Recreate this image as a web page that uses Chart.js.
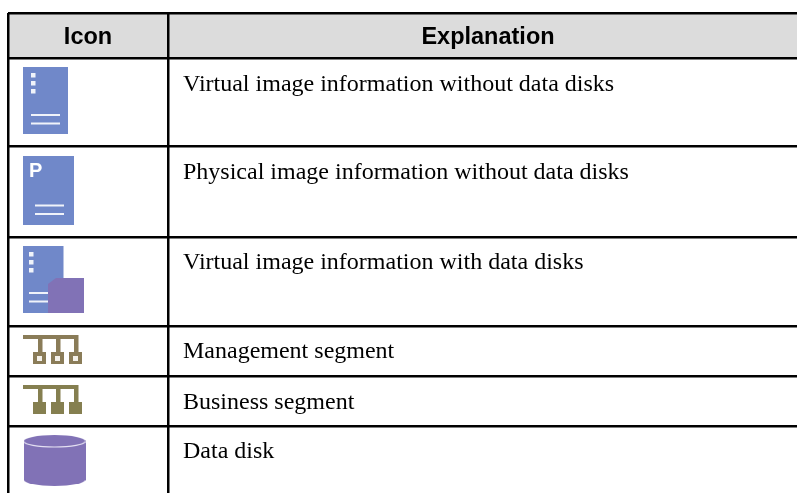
<!DOCTYPE html>
<html>
<head>
<meta charset="utf-8">
<title>Icon table</title>
<script src="https://cdn.jsdelivr.net/npm/chart.js@4"></script>
<style>
  html, body { margin: 0; padding: 0; background: #fff; overflow: hidden; }
  canvas { display: block; filter: blur(0.35px); }
</style>
</head>
<body>
<canvas id="myChart" width="797" height="493"></canvas>
<script>
// table content
const headers = ["Icon", "Explanation"];
const explanations = [
  "Virtual image information without data disks",
  "Physical image information without data disks",
  "Virtual image information with data disks",
  "Management segment",
  "Business segment",
  "Data disk",
];

// the axes run in page units, these are their ticks (the table rules)
const columnEdges = [8, 168];
const rowEdges = [13, 58, 146, 237, 326, 376, 426];

// text baselines and icon centres
const explanationY = [91, 179, 269, 358, 409, 458];
const iconCentreX = [45.5, 48.5, 53.5, 52.5, 52.5, 54.5];
const iconCentreY = [100.5, 190.5, 279.5, 349.5, 399.5, 460.5];

const BLUE = "#7088c9";
const PURPLE = "#8172b6";
const BROWN = "#8a7c58";
const OLIVE = "#857f50";
const PALE = "#f0f3fa";

function makeIcon(w, h, draw) {
  const c = document.createElement("canvas");
  c.width = w;
  c.height = h;
  draw(c.getContext("2d"));
  return c;
}

function dots(ctx, x, y) {
  ctx.fillStyle = PALE;
  [0, 8, 16].forEach((d) => ctx.fillRect(x, y + d, 4.5, 4.5));
}

function rules(ctx, x, y, w) {
  ctx.fillStyle = PALE;
  ctx.fillRect(x, y, w, 2);
  ctx.fillRect(x, y + 8.5, w, 2);
}

function segment(colour, hollow) {
  return makeIcon(59, 29, (ctx) => {
    ctx.fillStyle = colour;
    ctx.fillRect(0, 0, 55, 4);
    [15, 33, 51].forEach((x) => ctx.fillRect(x, 0, 4.5, 18));
    [10, 28, 46].forEach((x) => {
      ctx.fillStyle = colour;
      ctx.fillRect(x, 17, 13, 12);
      if (hollow) {
        ctx.fillStyle = "#f4f1ea";
        ctx.fillRect(x + 4, 21, 5, 5);
      }
    });
  });
}

const icons = [
  makeIcon(45, 67, (ctx) => {
    ctx.fillStyle = BLUE;
    ctx.fillRect(0, 0, 45, 67);
    dots(ctx, 8, 6);
    rules(ctx, 8, 47, 29);
  }),
  makeIcon(51, 69, (ctx) => {
    ctx.fillStyle = BLUE;
    ctx.fillRect(0, 0, 51, 69);
    ctx.fillStyle = "#fff";
    ctx.font = "900 20px 'Liberation Sans'";
    ctx.fillText("P", 6, 21);
    rules(ctx, 12, 48.5, 29);
  }),
  makeIcon(61, 67, (ctx) => {
    ctx.fillStyle = BLUE;
    ctx.fillRect(0, 0, 40.5, 67);
    dots(ctx, 6, 6);
    rules(ctx, 6, 46, 20);
    ctx.fillStyle = PURPLE;
    ctx.beginPath();
    ctx.moveTo(33, 32);
    ctx.lineTo(61, 32);
    ctx.lineTo(61, 67);
    ctx.lineTo(25, 67);
    ctx.lineTo(25, 38);
    ctx.closePath();
    ctx.fill();
  }),
  segment(BROWN, true),
  segment(OLIVE, false),
  makeIcon(62, 51, (ctx) => {
    ctx.fillStyle = PURPLE;
    ctx.beginPath();
    ctx.ellipse(31, 6.5, 31, 6.5, 0, 0, Math.PI * 2);
    ctx.fill();
    ctx.beginPath();
    ctx.ellipse(31, 44.5, 31, 6.5, 0, 0, Math.PI * 2);
    ctx.fill();
    ctx.fillRect(0, 7, 62, 38);
    ctx.strokeStyle = "#e4e0f2";
    ctx.lineWidth = 1.2;
    ctx.beginPath();
    ctx.ellipse(31, 6.5, 30.5, 5.5, 0, 0, Math.PI);
    ctx.stroke();
  }),
];

// header text and row text, placed through the scales
const tableText = {
  id: "tableText",
  afterDraw(chart) {
    const { ctx, scales } = chart;
    const { x, y } = scales;
    const left = columnEdges[0];
    const mid = columnEdges[1];

    ctx.save();
    ctx.fillStyle = "#000";
    ctx.textBaseline = "alphabetic";
    ctx.font = "bold 23.5px 'Liberation Sans'";
    ctx.textAlign = "center";
    ctx.fillText(headers[0], x.getPixelForValue((left + mid) / 2), y.getPixelForValue(44));
    ctx.fillText(headers[1], x.getPixelForValue(488), y.getPixelForValue(44));

    ctx.font = "24px 'Liberation Serif'";
    ctx.textAlign = "left";
    explanations.forEach((text, i) => {
      ctx.fillText(text, x.getPixelForValue(183), y.getPixelForValue(explanationY[i]));
    });
    ctx.restore();
  },
};

const config = {
  type: "scatter",
  data: {
    datasets: [
      {
        // header band
        data: [{ x: 8, y: rowEdges[0] }, { x: 797, y: rowEdges[0] }],
        showLine: true,
        fill: { value: rowEdges[1] },
        backgroundColor: "#dcdcdc",
        borderWidth: 0,
        pointRadius: 0,
      },
      {
        label: "icons",
        data: iconCentreX.map((x, i) => ({ x: x, y: iconCentreY[i] })),
        pointStyle: icons,
      },
    ],
  },
  options: {
    responsive: false,
    animation: false,
    events: [],
    layout: { autoPadding: false, padding: { left: 8, top: 13 } },
    plugins: {
      legend: { display: false },
      tooltip: { enabled: false },
    },
    scales: {
      x: {
        type: "linear",
        min: 8,
        max: 797,
        afterBuildTicks: (axis) => {
          axis.ticks = columnEdges.map((v) => ({ value: v }));
        },
        ticks: { display: false },
        border: { display: false },
        grid: { color: "#000", lineWidth: 2.5, drawTicks: false, z: 1 },
      },
      y: {
        type: "linear",
        reverse: true,
        min: 13,
        max: 493,
        afterBuildTicks: (axis) => {
          axis.ticks = rowEdges.map((v) => ({ value: v }));
        },
        ticks: { display: false },
        border: { display: false },
        grid: { color: "#000", lineWidth: 2.5, drawTicks: false, z: 1 },
      },
    },
  },
  plugins: [tableText],
};

var myChart = new Chart(document.getElementById("myChart"), config);
</script>
</body>
</html>
